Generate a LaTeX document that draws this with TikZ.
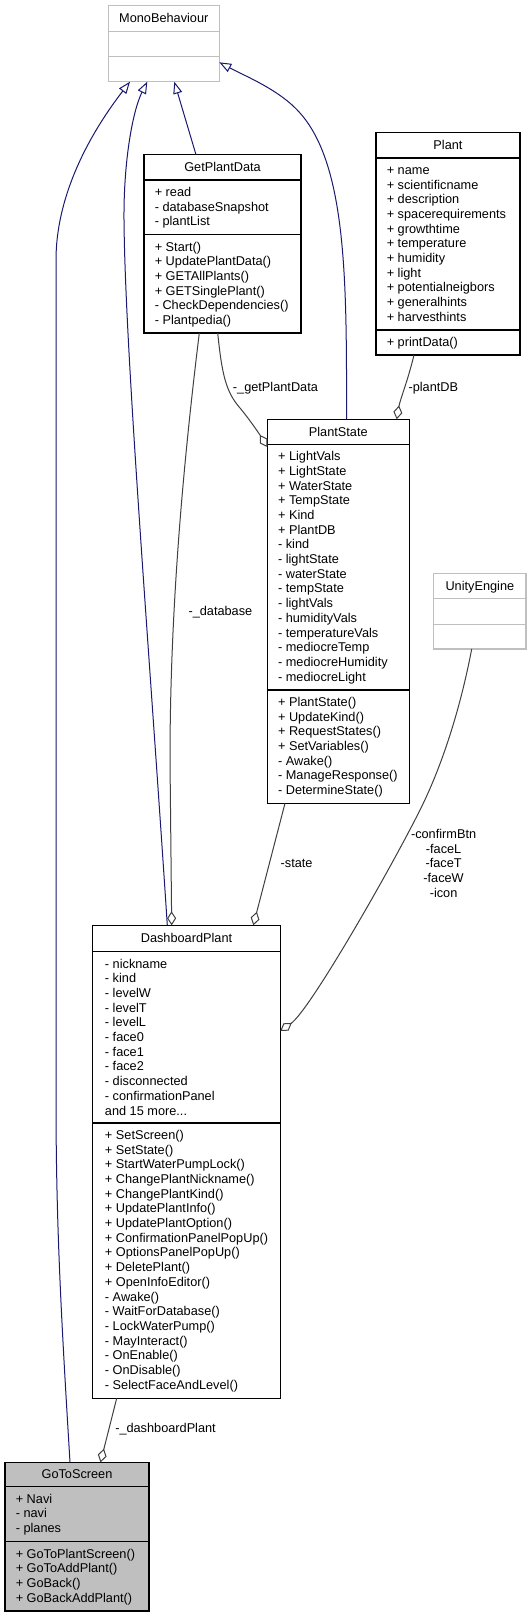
\documentclass[tikz,border=0pt]{standalone}
\usepackage{fontspec}
\setmainfont{Liberation Sans}
\usetikzlibrary{arrows.meta,calc}
\definecolor{navyedge}{HTML}{191970}
\definecolor{greyedge}{HTML}{404040}
\definecolor{extgrey}{HTML}{BFBFBF}
\newcommand{\dxfont}{\fontsize{9.55pt}{11pt}\selectfont}
\newcommand{\dxdots}{...}
\newcommand{\dxbox}[9]{%
  \node[#2, minimum width={#6*0.75pt}, minimum height={#7*0.75pt}] (#1) at (#4,#5) {};
  \draw[draw=#3, line width=0.8pt] ($(#1.north west)+(0,#8)$) -- ($(#1.north east)+(0,#8)$);
  \draw[draw=#3, line width=0.8pt] ($(#1.north west)+(0,#9)$) -- ($(#1.north east)+(0,#9)$);
}
\newcommand{\dxitems}[5]{%
  \foreach \itm [count=\i from 0] in {#5}
    \node[item] (#4\i) at ($(#1.north west)+(#2,{#3+16.3+14.7*\i})$) {\itm};
}
\begin{document}
\begin{tikzpicture}[x=0.75pt,y=-0.75pt,
  cls/.style={draw=black, line width=0.8pt, fill=white, inner sep=0pt, outer sep=0pt, anchor=north west},
  mainc/.style={draw=black, line width=0.8pt, fill=extgrey, inner sep=0pt, outer sep=0pt, anchor=north west},
  ext/.style={draw=extgrey, line width=0.8pt, fill=white, inner sep=0pt, outer sep=0pt, anchor=north west},
  item/.style={anchor=base west, inner sep=0pt, font=\dxfont},
  ttl/.style={anchor=base, inner sep=0pt, font=\dxfont},
  lbl/.style={inner sep=0pt, font=\dxfont},
  inh/.style={draw=navyedge, line width=0.75pt, -{Triangle[open, length=9pt, width=6.75pt]}},
  agg/.style={draw=greyedge, line width=0.75pt, -{Diamond[open, length=10.5pt, width=6.75pt]}}
]
\useasboundingbox (0,0) rectangle (531,1617);
\fill[white] (0,0) rectangle (531,1617);

% ---------- boxes ----------
\dxbox{mono}{ext}{extgrey}{108.3}{5.7}{111}{76}{25.6}{51}
\node[ttl] (monoT) at ($(mono.north)+(0,17.1)$) {MonoBehaviour};

\dxbox{gpd}{cls}{black}{144}{154.7}{157}{178.3}{25.3}{80}
\node[ttl] (gpdT) at ($(gpd.north)+(0,16.9)$) {GetPlantData};
\dxitems{gpd}{10.5}{25.3}{gpdA}{+ read,- databaseSnapshot,- plantList}
\dxitems{gpd}{10.5}{80}{gpdM}{+ Start(),+ UpdatePlantData(),+ GETAllPlants(),+ GETSinglePlant(),- CheckDependencies(),- Plantpedia()}

\dxbox{plant}{cls}{black}{376}{132.7}{144}{222.3}{25.3}{197.3}
\node[ttl] (plantT) at ($(plant.north)+(0,16.9)$) {Plant};
\dxitems{plant}{10.5}{25.3}{plantA}{+ name,+ scientificname,+ description,+ spacerequirements,+ growthtime,+ temperature,+ humidity,+ light,+ potentialneigbors,+ generalhints,+ harvesthints}
\dxitems{plant}{10.5}{197.3}{plantM}{+ printData()}

\dxbox{ps}{cls}{black}{267.3}{419.3}{142}{384}{25}{270.7}
\node[ttl] (psT) at ($(ps.north)+(0,16.8)$) {PlantState};
\dxitems{ps}{10.5}{25}{psA}{+ LightVals,+ LightState,+ WaterState,+ TempState,+ Kind,+ PlantDB,- kind,- lightState,- waterState,- tempState,- lightVals,- humidityVals,- temperatureVals,- mediocreTemp,- mediocreHumidity,- mediocreLight}
\dxitems{ps}{10.5}{270.7}{psM}{+ PlantState(),+ UpdateKind(),+ RequestStates(),+ SetVariables(),- Awake(),- ManageResponse(),- DetermineState()}

\dxbox{ue}{ext}{extgrey}{433.7}{573.3}{92.3}{75.7}{25}{51}
\node[ttl] (ueT) at ($(ue.north)+(0,16.8)$) {UnityEngine};

\dxbox{dp}{cls}{black}{92.7}{925.3}{187.6}{473}{26.4}{197.7}
\node[ttl] (dpT) at ($(dp.north)+(0,17.5)$) {DashboardPlant};
\dxitems{dp}{12}{26.4}{dpA}{- nickname,- kind,- levelW,- levelT,- levelL,- face0,- face1,- face2,- disconnected,- confirmationPanel,and 15 more\dxdots}
\dxitems{dp}{12}{197.7}{dpM}{+ SetScreen(),+ SetState(),+ StartWaterPumpLock(),+ ChangePlantNickname(),+ ChangePlantKind(),+ UpdatePlantInfo(),+ UpdatePlantOption(),+ ConfirmationPanelPopUp(),+ OptionsPanelPopUp(),+ DeletePlant(),+ OpenInfoEditor(),- Awake(),- WaitForDatabase(),- LockWaterPump(),- MayInteract(),- OnEnable(),- OnDisable(),- SelectFaceAndLevel()}

\dxbox{gts}{mainc}{black}{5}{1462.3}{144}{148.7}{24.4}{79.4}
\node[ttl] (gtsT) at ($(gts.north)+(0,16.5)$) {GoToScreen};
\dxitems{gts}{10.5}{24.4}{gtsA}{+ Navi,- navi,- planes}
\dxitems{gts}{10.5}{79.4}{gtsM}{+ GoToPlantScreen(),+ GoToAddPlant(),+ GoBack(),+ GoBackAddPlant()}

% ---------- connector end points ----------
\coordinate (e1a) at ($(gts.north west)+(65,0)$);
\coordinate (e1b) at ($(mono.south west)+(21.7,0)$);
\coordinate (e2a) at ($(dp.north west)+(74.6,0)$);
\coordinate (e2b) at ($(mono.south west)+(39,0)$);
\coordinate (e3a) at ($(gpd.north west)+(52,0)$);
\coordinate (e3b) at ($(mono.south west)+(66,0)$);
\coordinate (e4a) at ($(ps.north west)+(79.4,0)$);
\coordinate (e4b) at ($(mono.south east)+(0,-19.4)$);
\coordinate (e5a) at ($(gpd.south west)+(73.7,0)$);
\coordinate (e5b) at ($(ps.north west)+(0,27.7)$);
\coordinate (e6a) at ($(gpd.south west)+(55.3,0)$);
\coordinate (e6b) at ($(dp.north west)+(79,0)$);
\coordinate (e7a) at ($(plant.south west)+(38,0)$);
\coordinate (e7b) at ($(ps.north west)+(129.4,0)$);
\coordinate (e8a) at ($(ps.south west)+(17.7,0)$);
\coordinate (e8b) at ($(dp.north west)+(160.6,0)$);
\coordinate (e9a) at ($(ue.south west)+(38,0)$);
\coordinate (e9b) at ($(dp.north east)+(0,105.7)$);
\coordinate (e10a) at ($(dp.south west)+(24,0)$);
\coordinate (e10b) at ($(gts.north west)+(95.5,0)$);

% ---------- inheritance ----------
\draw[inh] (e1a) .. controls (62,1330) and (56,1230) .. (56,1100) -- (56,260) .. controls (56,200) and (85,140) .. (e1b);
\draw[inh] (e2a) .. controls (150,660) and (125,350) .. (124,220) .. controls (123.5,160) and (133,110) .. (e2b);
\draw[inh] (e3a) -- (e3b);
\draw[inh] (e4a) -- (346.5,370) .. controls (346,260) and (342,160) .. (300,113) .. controls (280,90) and (245,76) .. (e4b);

% ---------- aggregation ----------
\draw[agg] (e5a) .. controls (222,375) and (226,392) .. (240,408) .. controls (250,420) and (260,435) .. (e5b);
\draw[agg] (e6a) .. controls (185,450) and (170,600) .. (170,760) -- (e6b);
\draw[agg] (e7a) .. controls (408,380) and (400,400) .. (e7b);
\draw[agg] (e8a) -- (e8b);
\draw[agg] (e9a) .. controls (462,700) and (445,760) .. (420,810) .. controls (390,870) and (310,1010) .. (e9b);
\draw[agg] (e10a) -- (e10b);

% ---------- labels ----------
\node[lbl, anchor=base west] (lgpd) at (232.7,391) {-\_getPlantData};
\node[lbl, anchor=base west] (lpdb) at (408.3,391) {-plantDB};
\node[lbl, anchor=base west] (ldb) at (188.3,615) {-\_database};
\node[lbl, anchor=base west] (lst) at (280.4,867.6) {-state};
\foreach \itm [count=\i from 0] in {-confirmBtn,-faceL,-faceT,-faceW,-icon}
  \node[lbl, anchor=base] (lcb\i) at (443.6,{838.6+14.6*\i}) {\itm};
\node[lbl, anchor=base west] (ldash) at (115,1432.6) {-\_dashboardPlant};
\end{tikzpicture}
\end{document}
